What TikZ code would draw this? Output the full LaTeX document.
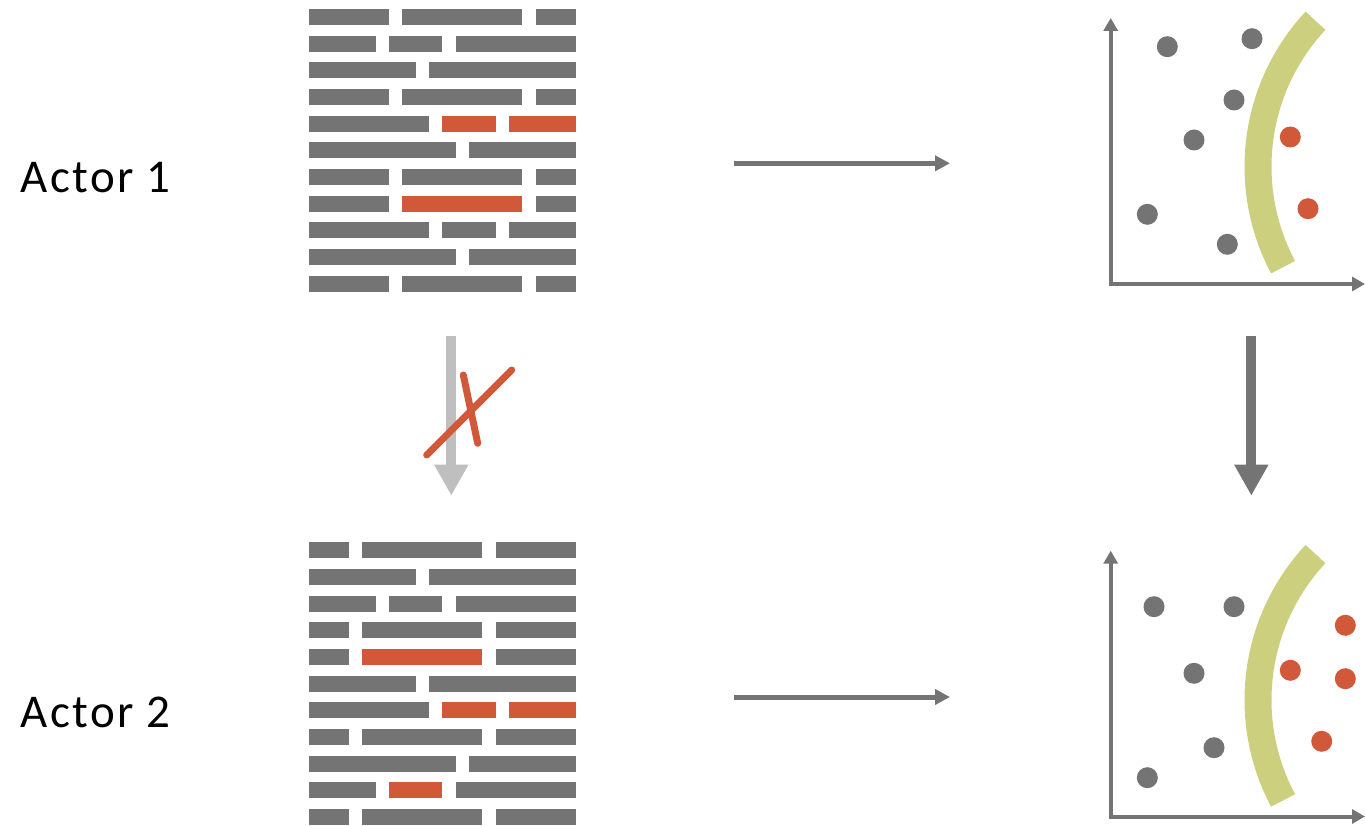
\documentclass[tikz,border=0pt]{standalone}
\usepackage{fontspec}
\setmainfont{Carlito}
\usetikzlibrary{arrows.meta}
\definecolor{bg}{RGB}{115,116,115}
\definecolor{br}{RGB}{210,88,58}
\definecolor{bgreen}{RGB}{204,207,126}
\definecolor{blight}{RGB}{191,191,191}
\tikzset{
  brick/.style={fill=#1, draw=none},
  axisline/.style={draw=bg, line width=4pt, line join=miter, {Triangle[length=13pt,width=14pt]}-{Triangle[length=13pt,width=14pt]}},
  harrow/.style={draw=bg, line width=5pt, -{Triangle[length=15pt,width=15pt]}},
  varrow/.style={draw=#1, line width=10pt, -{Triangle[length=31pt,width=32pt]}},
  boundary/.style={draw=bgreen, line width=27pt, line cap=butt},
  dotg/.style={circle, fill=bg, draw=none, inner sep=0pt, minimum size=21pt},
  dotr/.style={circle, fill=br, draw=none, inner sep=0pt, minimum size=21pt},
  crossline/.style={draw=br, line width=7pt, line cap=round},
  actor/.style={anchor=base west, inner sep=0pt, font=\fontsize{47}{56}\selectfont\addfontfeature{LetterSpace=5}},
}
\newcommand{\brickblock}[3]{% #1 x0, #2 top y, #3 rows
  \foreach \rw/\bricks in {#3}{
    \foreach \a/\b/\c in \bricks{
      \fill[brick=b\c] ({#1+\a*13.333}, {#2-\rw*26.667}) rectangle ({#1+\b*13.333}, {#2-\rw*26.667-16});
    }
  }
}
\begin{document}
\begin{tikzpicture}[x=1pt,y=1pt]
\useasboundingbox (0,0) rectangle (1365,825);
% labels
\node[actor] (act1) at (20.7,632.3) {Actor 1};
\node[actor] (act2) at (20.7,97.3) {Actor 2};
% top brick block
\brickblock{309}{816}{0/{0/6/g,7/16/g,17/20/g},1/{0/5/g,6/10/g,11/20/g},2/{0/8/g,9/20/g},3/{0/6/g,7/16/g,17/20/g},4/{0/9/g,10/14/r,15/20/r},5/{0/11/g,12/20/g},6/{0/6/g,7/16/g,17/20/g},7/{0/6/g,7/16/r,17/20/g},8/{0/9/g,10/14/g,15/20/g},9/{0/11/g,12/20/g},10/{0/6/g,7/16/g,17/20/g}}
% bottom brick block
\brickblock{309}{282.7}{0/{0/3/g,4/13/g,14/20/g},1/{0/8/g,9/20/g},2/{0/5/g,6/10/g,11/20/g},3/{0/3/g,4/13/g,14/20/g},4/{0/3/g,4/13/r,14/20/g},5/{0/8/g,9/20/g},6/{0/9/g,10/14/r,15/20/r},7/{0/3/g,4/13/g,14/20/g},8/{0/11/g,12/20/g},9/{0/5/g,6/10/r,11/20/g},10/{0/3/g,4/13/g,14/20/g}}
% connector coordinates
\coordinate (a1s) at (734.3,661.7);
\coordinate (a1e) at (950,661.7);
\coordinate (a2s) at (734.3,128);
\coordinate (a2e) at (950,128);
\coordinate (v1s) at (1251.3,489);
\coordinate (v1e) at (1251.3,329.3);
\coordinate (g1s) at (451.3,489);
\coordinate (g1e) at (451.3,329.3);
\draw[harrow] (a1s) -- (a1e);
\draw[harrow] (a2s) -- (a2e);
\draw[varrow=bg] (v1s) -- (v1e);
\draw[varrow=blight] (g1s) -- (g1e);
% red cross
\coordinate (x1a) at (426.7,370);
\coordinate (x1b) at (511.7,455);
\coordinate (x2a) at (463.3,450);
\coordinate (x2b) at (477.7,381.7);
\draw[crossline] (x1a) -- (x1b);
\draw[crossline] (x2a) -- (x2b);
% top plot
\coordinate (t-ytip) at (1110.7,807);
\coordinate (t-xtip) at (1365,541);
\draw[axisline] (t-ytip) |- (t-xtip);
\draw[boundary] (1472,658.3) ++(137:214) arc[start angle=137, end angle=208, radius=214];
\node[dotg] (t1) at (1167.3,778.3) {};
\node[dotg] (t2) at (1252,786.3) {};
\node[dotg] (t3) at (1234,725) {};
\node[dotg] (t4) at (1194,685) {};
\node[dotr] (t5) at (1290.3,688) {};
\node[dotr] (t6) at (1308,616.3) {};
\node[dotg] (t7) at (1147.3,610.7) {};
\node[dotg] (t8) at (1227.3,580.7) {};
% bottom plot
\coordinate (b-ytip) at (1110.7,274.3);
\coordinate (b-xtip) at (1365,8.5);
\draw[axisline] (b-ytip) |- (b-xtip);
\draw[boundary] (1472,125) ++(137:214) arc[start angle=137, end angle=208, radius=214];
\node[dotg] (b1) at (1154,218.3) {};
\node[dotg] (b2) at (1234,218.3) {};
\node[dotr] (b3) at (1345.3,199.7) {};
\node[dotg] (b4) at (1194,151.7) {};
\node[dotr] (b5) at (1290.3,154.7) {};
\node[dotr] (b6) at (1345.3,146.3) {};
\node[dotg] (b7) at (1214,77.3) {};
\node[dotr] (b8) at (1321.7,83.7) {};
\node[dotg] (b9) at (1147.3,47.3) {};
\end{tikzpicture}
\end{document}
